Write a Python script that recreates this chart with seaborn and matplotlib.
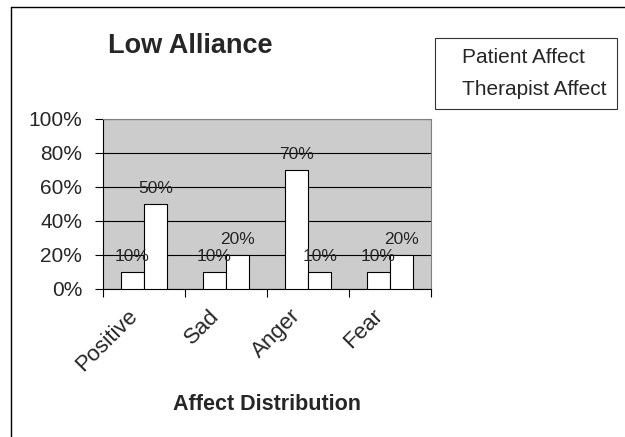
import matplotlib
matplotlib.use('Agg')
import matplotlib.pyplot as plt
from matplotlib.lines import Line2D
from matplotlib.patches import Patch
from matplotlib.ticker import FixedLocator, FuncFormatter
from matplotlib.transforms import ScaledTranslation
import seaborn as sns
import pandas as pd

# Chart data
affects = ['Positive', 'Sad', 'Anger', 'Fear']
series_names = ['Patient Affect', 'Therapist Affect']
patient_pct = [10, 10, 70, 10]
therapist_pct = [50, 20, 10, 20]

df = pd.DataFrame({
    'affect': affects * 2,
    'series': [series_names[0]] * 4 + [series_names[1]] * 4,
    'pct': patient_pct + therapist_pct,
})

sns.set_style('white')
plt.rcParams['font.family'] = ['Liberation Sans', 'DejaVu Sans']

W, H = 625, 437
fig = plt.figure(figsize=(W / 100, H / 100), dpi=100)
ax = fig.add_axes([103 / W, 1 - 289 / H, (431 - 103) / W, (289 - 119) / H])
ax.set_facecolor('#cccccc')

sns.barplot(data=df, x='affect', y='pct', hue='series', order=affects,
            hue_order=series_names, palette=['white', 'white'], saturation=1,
            edgecolor='black', linewidth=0.8, width=0.573, legend=False, ax=ax,
            zorder=3)

# value labels above the bars
for cont in ax.containers:
    vals = [int(round(b.get_height())) for b in cont]
    ax.bar_label(cont, labels=[f'{v}%' for v in vals], padding=6, fontsize=12.5)

ax.set_ylim(0, 100)
ax.set_xlim(-0.5, 3.5)
ax.set_yticks(range(0, 101, 20))
ax.yaxis.set_major_formatter(FuncFormatter(lambda v, p: f'{int(v)}%'))
ax.grid(axis='y', color='black', linewidth=0.8, zorder=1)
ax.set_axisbelow(True)

ax.tick_params(axis='y', left=True, length=6, width=0.8, direction='out',
               labelsize=15, pad=9, color='black')
ax.tick_params(axis='x', which='major', length=0, labelsize=16, pad=12)
ax.xaxis.set_minor_locator(FixedLocator([-0.5, 0.5, 1.5, 2.5, 3.5]))
ax.tick_params(axis='x', which='minor', bottom=True, length=6, width=0.8,
               direction='out', color='black')
shift = ScaledTranslation(-10 / 100, -7 / 100, fig.dpi_scale_trans)
for lab in ax.get_xticklabels():
    lab.set_rotation(45)
    lab.set_ha('right')
    lab.set_va('center')
    lab.set_rotation_mode('anchor')
    lab.set_transform(lab.get_transform() + shift)

for s in ['left', 'bottom']:
    ax.spines[s].set_color('black')
    ax.spines[s].set_linewidth(0.8)
for s in ['top', 'right']:
    ax.spines[s].set_color('#808080')
    ax.spines[s].set_linewidth(0.8)

ax.set_ylabel('')
ax.set_xlabel('Affect Distribution', fontsize=15.5, fontweight='bold')
ax.xaxis.label.set_va('center')
ax.xaxis.set_label_coords(0.5, (289 - 404) / (289 - 119))

fig.text(190 / W, 1 - 46 / H, 'Low Alliance', fontsize=19.5,
         fontweight='bold', ha='center', va='center')

# legend without visible swatches
handles = [Patch(facecolor='none', edgecolor='none') for _ in series_names]
leg = fig.legend(handles, series_names, loc='upper left',
                 bbox_to_anchor=(435 / W, 1 - 38 / H), fontsize=15,
                 frameon=True, fancybox=False, edgecolor='black',
                 handlelength=0.55, handletextpad=0.25, labelspacing=0.6,
                 borderpad=0.5, borderaxespad=0)
leg.get_frame().set_linewidth(0.8)

# outer chart border (left and top edges visible)
x0, y0 = 11 / W, 1 - 7 / H
fig.add_artist(Line2D([x0, x0], [0, y0], color='black', linewidth=1,
                      transform=fig.transFigure))
fig.add_artist(Line2D([x0, 1], [y0, y0], color='black', linewidth=1,
                      transform=fig.transFigure))

fig.savefig('out.png', dpi=100)
